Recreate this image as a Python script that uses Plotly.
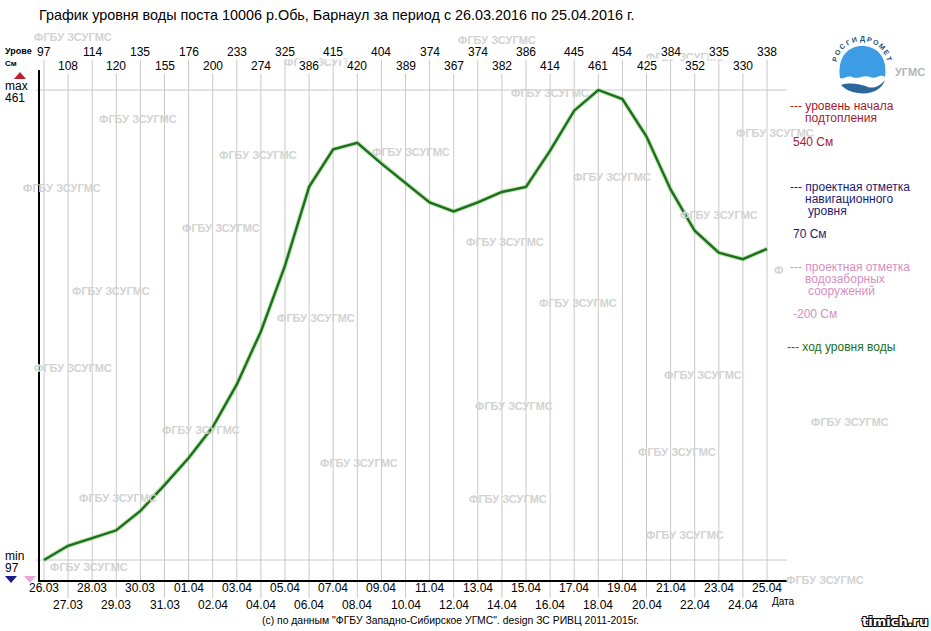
import math
import plotly.graph_objects as go

# ---------------- data ----------------
dates = ["26.03", "27.03", "28.03", "29.03", "30.03", "31.03", "01.04", "02.04",
         "03.04", "04.04", "05.04", "06.04", "07.04", "08.04", "09.04", "10.04",
         "11.04", "12.04", "13.04", "14.04", "15.04", "16.04", "17.04", "18.04",
         "19.04", "20.04", "21.04", "22.04", "23.04", "24.04", "25.04"]
levels = [97, 108, 114, 120, 135, 155, 176, 200, 233, 274, 325, 386, 415, 420,
          404, 389, 374, 367, 374, 382, 386, 414, 445, 461, 454, 425, 384, 352,
          335, 330, 338]

title_text = "График уровня воды поста 10006 р.Обь, Барнаул за период с 26.03.2016 по 25.04.2016 г."
footer_text = "(c) по данным \"ФГБУ Западно-Сибирское УГМС\". design ЗС РИВЦ 2011-2015г."
watermark = "ФГБУ ЗСУГМС"

# ---------------- geometry ----------------
W, H = 931, 631
L, R, T, B = 40, 143, 70, 51
PW, PH = W - L - R, H - T - B
FIRST_PX, LAST_PX = 44, 767          # pixel of first / last day
MIN_PX, MAX_PX = 560, 90             # pixel rows of min / max level

n = len(dates)
step = (LAST_PX - FIRST_PX) / (n - 1)
x0 = -(FIRST_PX - L) / step
x1 = x0 + PW / step
vmin, vmax = min(levels), max(levels)
ppc = (MIN_PX - MAX_PX) / (vmax - vmin)
y0 = vmin - (H - B - MIN_PX) / ppc
y1 = vmax + (MAX_PX - T) / ppc


def px(x):
    return (x - L) / PW


def py(y):
    return (H - B - y) / PH


def path(points):
    return "M " + " L ".join(f"{px(a):.5f},{py(b):.5f}" for a, b in points) + " Z"


def cpath(cmds):
    out = []
    for c in cmds:
        if isinstance(c, str):
            out.append(c)
        else:
            out.append(f"{px(c[0]):.5f},{py(c[1]):.5f}")
    return " ".join(out)


FONT = "Liberation Sans, Arial, Helvetica, sans-serif"
GRID = "#c8c8c8"

fig = go.Figure()

# faint halo + line
fig.add_trace(go.Scatter(x=list(range(n)), y=levels, mode="lines",
                         line=dict(color="rgba(140,210,120,0.55)", width=4.5),
                         hoverinfo="skip", showlegend=False))
fig.add_trace(go.Scatter(x=list(range(n)), y=levels, mode="lines",
                         line=dict(color="#1e6e1e", width=2.4),
                         showlegend=False))

shapes = []
# vertical day grid lines
for i in range(n):
    if i % 2 == 0:
        ya, yb = py(582), py(57)
    else:
        ya, yb = py(598), py(72)
    shapes.append(dict(type="line", xref="x", yref="paper", x0=i, x1=i, y0=ya, y1=yb,
                       line=dict(color=GRID, width=1), layer="below"))
# min / max horizontal lines
for v in (vmin, vmax):
    shapes.append(dict(type="line", xref="paper", yref="y", x0=px(36), x1=px(787),
                       y0=v, y1=v, line=dict(color=GRID, width=1), layer="below"))

# triangles
shapes.append(dict(type="path", xref="paper", yref="paper",
                   path=path([(14, 79), (26, 79), (20, 72)]),
                   fillcolor="#c0202a", line=dict(width=0)))
shapes.append(dict(type="path", xref="paper", yref="paper",
                   path=path([(5, 576), (17, 576), (11, 583)]),
                   fillcolor="#1a1a8c", line=dict(width=0)))
shapes.append(dict(type="path", xref="paper", yref="paper",
                   path=path([(24, 576), (36, 576), (30, 583)]),
                   fillcolor="#e6a8dc", line=dict(width=0)))

# logo: blue dome and dark wave
dome = cpath(["M", (840, 78), "C", (837, 56), (849, 46), (862, 46),
              "C", (876, 46), (888, 56), (885, 77),
              "C", (880, 73), (876, 80), (870, 77),
              "C", (864, 74), (858, 80), (852, 77),
              "C", (847, 75), (843, 80), (840, 78), "Z"])
shapes.append(dict(type="path", xref="paper", yref="paper", path=dome,
                   fillcolor="#3d9de4", line=dict(width=0)))
wave = cpath(["M", (841, 85), "C", (850, 82), (860, 84), (868, 87),
              "C", (874, 89), (880, 86), (885, 80),
              "C", (882, 90), (870, 95), (858, 93),
              "C", (850, 92), (845, 89), (841, 85), "Z"])
shapes.append(dict(type="path", xref="paper", yref="paper", path=wave,
                   fillcolor="#2b669c", line=dict(width=0)))

ann = []


def text(x, y, s, size=12, color="black", xanchor="center", bold=False, **kw):
    d = dict(xref="paper", yref="paper", x=px(x), y=py(y), text=("<b>%s</b>" % s) if bold else s,
             showarrow=False, xanchor=xanchor, yanchor="middle",
             font=dict(size=size, color=color, family=FONT))
    d.update(kw)
    ann.append(d)


# watermarks
wm_pos = [(73, 37), (323, 62), (497, 40), (685, 57), (550, 93), (138, 119), (775, 133),
          (258, 155), (411, 152), (62, 188), (612, 177), (221, 228), (719, 215),
          (505, 242), (111, 291), (316, 318), (578, 303), (73, 368), (703, 375),
          (850, 422), (514, 406), (201, 430), (677, 452), (359, 463), (118, 498),
          (508, 499), (685, 535), (89, 567), (825, 580)]
for (a, b) in wm_pos:
    text(a, b, watermark, size=11, color="#d2d2d2", bold=True)
text(778, 270, "Ф", size=11, color="#d2d2d2", bold=True)

# value labels on top (two alternating rows)
for i, v in enumerate(levels):
    ann.append(dict(xref="x", yref="paper", x=i, y=py(52) if i % 2 == 0 else py(66),
                    text=str(v), showarrow=False, yanchor="middle",
                    bgcolor="white", borderpad=0,
                    font=dict(size=12, color="black", family=FONT)))
# date labels at bottom (two alternating rows)
for i, d in enumerate(dates):
    ann.append(dict(xref="x", yref="paper", x=i, y=py(588) if i % 2 == 0 else py(605),
                    text=d, showarrow=False, yanchor="middle",
                    font=dict(size=12, color="black", family=FONT)))

# left side labels
text(3, 51, "Урове", size=9, xanchor="left", bold=True)
text(3, 63, "См", size=8, xanchor="left", bold=True)
text(3, 86, "max", size=12, xanchor="left")
text(3, 98, "461", size=12, xanchor="left")
text(3, 556, "min", size=12, xanchor="left")
text(3, 568, "97", size=12, xanchor="left")
text(770, 601, "Дата", size=10, xanchor="left")

# title and footer
text(37, 15, title_text, size=14.4, xanchor="left")
text(450, 620, footer_text, size=10.4)
ann.append(dict(xref="paper", yref="paper", x=px(895), y=py(621), text="<b>timich.ru</b>",
                showarrow=False, xanchor="center", yanchor="middle",
                font=dict(size=13, color="white", family="DejaVu Sans, sans-serif",
                          shadow="-1px -1px 0 #000, 1px -1px 0 #000, -1px 1px 0 #000, 1px 1px 0 #000")))

# legend texts
RED, NAVY, PINK, GREEN = "#a8202e", "#1c1c72", "#d690c0", "#1a6e1a"
LS = 12
text(788, 106, "--- уровень начала", size=LS, color=RED, xanchor="left")
text(803, 118, "подтопления", size=LS, color=RED, xanchor="left")
text(791, 142, "540 См", size=LS, color=RED, xanchor="left")
text(788, 187, "--- проектная отметка", size=LS, color=NAVY, xanchor="left")
text(803, 199, "навигационного", size=LS, color=NAVY, xanchor="left")
text(806, 211, "уровня", size=LS, color=NAVY, xanchor="left")
text(791, 234, "70 См", size=LS, color=NAVY, xanchor="left")
text(788, 267, "--- проектная отметка", size=LS, color=PINK, xanchor="left")
text(803, 279, "водозаборных", size=LS, color=PINK, xanchor="left")
text(806, 291, "сооружений", size=LS, color=PINK, xanchor="left")
text(791, 314, "-200 См", size=LS, color=PINK, xanchor="left")
text(785, 347, "--- ход уровня воды", size=LS, color=GREEN, xanchor="left")

# logo arc text
logo_letters = "РОСГИДРОМЕТ"
cx, cy, rr = 862, 68, 29
k = len(logo_letters)
for j, ch in enumerate(logo_letters):
    th = -72 + 144 * j / (k - 1)
    a = math.radians(th)
    text(cx + rr * math.sin(a), cy - rr * math.cos(a), ch, size=7, color="#244f7c",
         bold=True, textangle=th)
text(910, 72, "УГМС", size=11, color="#b5b5b5", bold=True)

fig.update_layout(
    width=W, height=H,
    margin=dict(l=L, r=R, t=T, b=B, pad=0),
    paper_bgcolor="white", plot_bgcolor="white",
    font=dict(family=FONT, size=12, color="black"),
    showlegend=False,
    xaxis=dict(range=[x0, x1], showgrid=False, zeroline=False, showticklabels=False,
               ticks="", showline=True, linecolor="black", linewidth=2, fixedrange=True),
    yaxis=dict(range=[y0, y1], showgrid=False, zeroline=False, showticklabels=False,
               ticks="", showline=True, linecolor="black", linewidth=2, fixedrange=True),
    shapes=shapes,
    annotations=ann,
)

fig.write_html("out.html", config={"displayModeBar": False},
               post_script="document.body.style.margin='0px';")
